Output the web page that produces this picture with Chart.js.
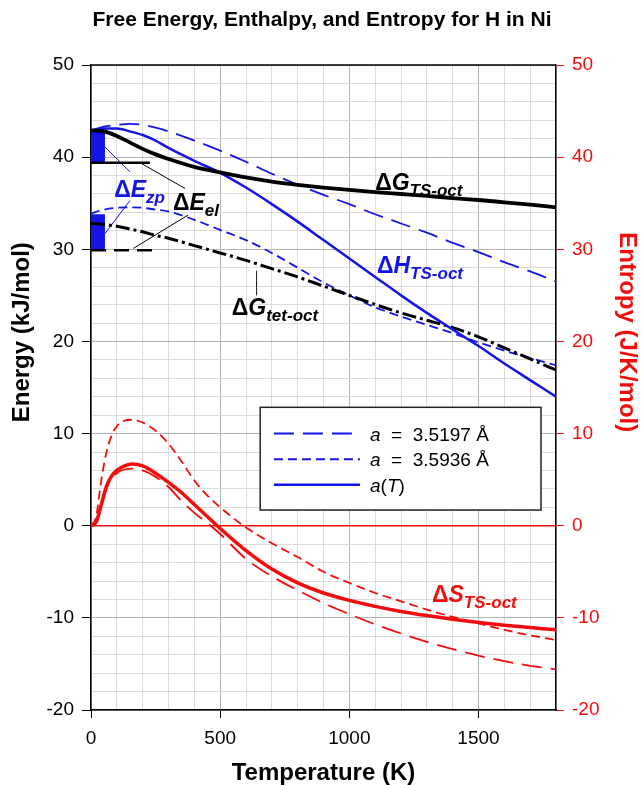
<!DOCTYPE html>
<html>
<head>
<meta charset="utf-8">
<script src="https://cdn.jsdelivr.net/npm/chart.js@4.4.1/dist/chart.umd.min.js"></script>
<style>
  html, body { margin: 0; padding: 0; background: #fff; }
  #wrap { width: 644px; height: 785px; }
</style>
</head>
<body>
<div id="wrap"><canvas id="c" width="644" height="785"></canvas></div>
<script>
// temperatures (K)
const T_ENERGY = [0, 50, 100, 150, 200, 250, 300, 400, 500, 600, 700, 800, 900, 1000, 1100, 1200, 1300, 1400, 1500, 1600, 1700, 1800];
const T_ENTROPY = [0, 20, 40, 60, 80, 100, 130, 160, 200, 250, 300, 350, 400, 450, 500, 600, 700, 800, 900, 1000, 1100, 1200, 1300, 1400, 1500, 1600, 1700, 1800];

// energies (kJ/mol)
const dG_TS = [42.9, 42.8, 42.3, 41.6, 40.9, 40.3, 39.8, 38.95, 38.35, 37.8, 37.35, 37.0, 36.7, 36.45, 36.2, 36.0, 35.8, 35.55, 35.35, 35.1, 34.85, 34.55];
const dH_TS_aT = [42.9, 43.1, 43.1, 42.8, 42.4, 41.8, 41.0, 39.6, 38.3, 36.7, 34.9, 33.0, 31.0, 29.0, 27.0, 25.0, 23.1, 21.3, 19.5, 17.6, 15.8, 14.0];
const dH_TS_a1 = [42.9, 43.3, 43.5, 43.6, 43.5, 43.2, 42.8, 41.8, 40.7, 39.5, 38.2, 37.0, 35.9, 34.9, 33.8, 32.8, 31.8, 30.7, 29.7, 28.6, 27.6, 26.5];
const dG_tet = [32.8, 32.7, 32.5, 32.2, 31.9, 31.5, 31.2, 30.4, 29.6, 28.8, 27.9, 27.0, 26.0, 25.0, 24.0, 23.1, 22.3, 21.5, 20.5, 19.3, 18.1, 16.9];
const dH_tet_a2 = [33.9, 34.3, 34.5, 34.55, 34.5, 34.3, 34.1, 33.2, 32.1, 31.0, 29.6, 28.0, 26.4, 25.0, 23.7, 22.7, 21.8, 20.9, 19.9, 19.0, 18.2, 17.4];

// entropies (J/K/mol)
const dS_aT = [0, 0.4, 2.3, 4.3, 5.4, 6.0, 6.5, 6.7, 6.5, 5.7, 4.7, 3.6, 2.3, 1.0, -0.3, -2.7, -4.7, -6.2, -7.3, -8.1, -8.75, -9.3, -9.75, -10.15, -10.5, -10.8, -11.05, -11.3];
const dS_a2 = [0, 1.0, 5.0, 8.0, 9.8, 10.8, 11.4, 11.5, 11.2, 10.3, 8.9, 7.0, 4.9, 3.3, 2.0, -0.2, -1.9, -3.4, -5.0, -6.2, -7.3, -8.2, -9.1, -9.9, -10.6, -11.3, -11.9, -12.4];
const dS_a1 = [0, 0.3, 2.1, 4.0, 5.1, 5.7, 6.1, 6.2, 6.0, 5.3, 4.2, 2.7, 1.4, 0.3, -0.9, -3.6, -5.5, -7.0, -8.4, -9.6, -10.7, -11.7, -12.6, -13.4, -14.1, -14.7, -15.2, -15.6];

// reference levels at T = 0
const E_EL_TS = 39.4, E_EL_TET = 29.9;
const ZP_TS = [E_EL_TS, 42.9];
const ZP_TET = [E_EL_TET, 33.8];
const ZP_WIDTH = 54;
const EL_TS_END = 228, EL_TET_END = 250;

// leader lines [T1, v1, T2, v2]
const LEADERS_ZP = [[54, 41.1, 151, 38.4], [151, 35.3, 54, 31.7]];
const LEADERS_EL = [[196, 39.3, 364, 36.6], [375, 33.7, 164, 30.1], [641, 27.7, 641, 25.0]];

const LEGEND_LABELS = ["3.5197 Å", "3.5936 Å", "(T)"];

const BLUE = "#1414e6";
const RED = "#f20d0d";
const FONT = '"Liberation Sans", Arial, Helvetica, sans-serif';

const pts = (xs, ys) => xs.map((x, i) => ({ x, y: ys[i] }));
const seg = (l) => [{ x: l[0], y: l[1] }, { x: l[2], y: l[3] }];

const curve = (data, color, width, dash, axis) => ({
  data,
  borderColor: color,
  borderWidth: width,
  borderDash: dash || [],
  pointRadius: 0,
  cubicInterpolationMode: "monotone",
  yAxisID: axis || "y",
  fill: false,
});

const datasets = [
  curve(pts(T_ENERGY, dG_TS), "#000", 3.8),
  curve(pts(T_ENERGY, dH_TS_aT), BLUE, 2.5),
  curve(pts(T_ENERGY, dH_TS_a1), BLUE, 1.8, [20, 9]),
  curve(pts(T_ENERGY, dG_tet), "#000", 3, [14, 4, 3, 4]),
  curve(pts(T_ENERGY, dH_tet_a2), BLUE, 1.8, [9, 5]),
  curve(pts(T_ENTROPY, dS_aT), RED, 3.5, null, "y2"),
  curve(pts(T_ENTROPY, dS_a2), RED, 1.8, [9, 5], "y2"),
  curve(pts(T_ENTROPY, dS_a1), RED, 1.8, [20, 9], "y2"),
  curve([{ x: 0, y: 0 }, { x: 1800, y: 0 }], RED, 1.5, null, "y2"),
  curve([{ x: 0, y: E_EL_TS }, { x: EL_TS_END, y: E_EL_TS }], "#000", 2.5),
  curve([{ x: 0, y: E_EL_TET }, { x: EL_TET_END, y: E_EL_TET }], "#000", 2.5, [15, 8]),
  {
    data: [{ x: 0, y: ZP_TS[1] }, { x: ZP_WIDTH, y: ZP_TS[1] }],
    borderWidth: 0, pointRadius: 0, backgroundColor: BLUE, fill: { value: ZP_TS[0] },
  },
  {
    data: [{ x: 0, y: ZP_TET[1] }, { x: ZP_WIDTH, y: ZP_TET[1] }],
    borderWidth: 0, pointRadius: 0, backgroundColor: BLUE, fill: { value: ZP_TET[0] },
  },
  ...LEADERS_ZP.map((l) => curve(seg(l), BLUE, 1)),
  ...LEADERS_EL.map((l) => curve(seg(l), "#000", 1)),
];

function rich(ctx, x, y, parts, color) {
  ctx.fillStyle = color;
  ctx.textBaseline = "alphabetic";
  ctx.textAlign = "left";
  for (const p of parts) {
    ctx.font = p.font;
    ctx.fillText(p.text, x, y + (p.dy || 0));
    x += ctx.measureText(p.text).width;
  }
}

const big = (t) => ({ text: t, font: `bold 23px ${FONT}` });
const bigI = (t) => ({ text: t, font: `italic bold 23px ${FONT}` });
const sub = (t) => ({ text: t, font: `italic bold 17px ${FONT}`, dy: 6 });

const CURVE_LABELS = [
  { T: 1100, v: 36.4, color: "#000", parts: [big("Δ"), bigI("G"), sub("TS-oct")] },
  { T: 1107, v: 27.4, color: BLUE, parts: [big("Δ"), bigI("H"), sub("TS-oct")] },
  { T: 1320, v: -8.3, color: RED, parts: [big("Δ"), bigI("S"), sub("TS-oct")] },
  { T: 90, v: 35.7, color: BLUE, parts: [big("Δ"), bigI("E"), sub("zp")] },
  { T: 317, v: 34.3, color: "#000", parts: [big("Δ"), bigI("E"), sub("el")] },
  { T: 545, v: 22.9, color: "#000", parts: [big("Δ"), bigI("G"), sub("tet-oct")] },
];

// rotated axis titles, centred a little above the middle of the plot
const AXIS_TITLE_LEVEL = 21;
const AXIS_TITLES = [
  { text: "Energy (kJ/mol)", color: "#000", x: 22, angle: -Math.PI / 2 },
  { text: "Entropy (J/K/mol)", color: RED, x: 627, angle: Math.PI / 2 },
];

const annotations = {
  id: "annotations",
  afterDatasetsDraw(chart) {
    const { ctx, chartArea: a, scales } = chart;
    const X = (t) => scales.x.getPixelForValue(t);
    const Y = (v) => scales.y.getPixelForValue(v);
    ctx.save();
    // top frame line
    ctx.strokeStyle = "#000";
    ctx.lineWidth = 1.5;
    ctx.beginPath();
    ctx.moveTo(a.left, a.top);
    ctx.lineTo(a.right, a.top);
    ctx.stroke();

    for (const l of CURVE_LABELS) rich(ctx, X(l.T), Y(l.v), l.parts, l.color);

    // legend box
    const bx0 = X(655), bx1 = X(1742), by0 = Y(12.85), by1 = Y(1.7);
    ctx.fillStyle = "#fff";
    ctx.fillRect(bx0, by0, bx1 - bx0, by1 - by0);
    ctx.strokeStyle = "#222";
    ctx.lineWidth = 1.5;
    ctx.strokeRect(bx0, by0, bx1 - bx0, by1 - by0);
    const rows = [10.0, 7.2, 4.45];
    const dashes = [[20, 9], [9, 5], []];
    const widths = [2, 2, 2.5];
    const f = `19px ${FONT}`, fi = `italic 19px ${FONT}`;
    rows.forEach((rv, i) => {
      const yy = Y(rv);
      ctx.strokeStyle = BLUE;
      ctx.lineWidth = widths[i];
      ctx.setLineDash(dashes[i]);
      ctx.beginPath();
      ctx.moveTo(X(708), yy);
      ctx.lineTo(X(1041), yy);
      ctx.stroke();
      ctx.setLineDash([]);
      const parts = i < 2
        ? [{ text: "a", font: fi }, { text: "  =  " + LEGEND_LABELS[i], font: f }]
        : [{ text: "a", font: fi }, { text: "(", font: f }, { text: "T", font: fi }, { text: ")", font: f }];
      rich(ctx, X(1080), yy + 7, parts, "#000");
    });

    // axis titles
    ctx.font = `bold 24px ${FONT}`;
    ctx.textAlign = "center";
    ctx.textBaseline = "middle";
    for (const t of AXIS_TITLES) {
      ctx.save();
      ctx.translate(t.x, Y(AXIS_TITLE_LEVEL));
      ctx.rotate(t.angle);
      ctx.fillStyle = t.color;
      ctx.fillText(t.text, 0, 0);
      ctx.restore();
    }
    ctx.restore();
  },
};

const gridColor = (ctx, major) =>
  ctx.tick && Math.round(ctx.tick.value) % major === 0 ? "#b4b4b4" : "#dcdcdc";

new Chart(document.getElementById("c"), {
  type: "line",
  data: { datasets },
  options: {
    responsive: false,
    devicePixelRatio: 1,
    animation: false,
    layout: { padding: { left: 0, right: 0, top: 0, bottom: 0 } },
    plugins: {
      legend: { display: false },
      tooltip: { enabled: false },
      title: {
        display: true,
        text: "Free Energy, Enthalpy, and Entropy for H in Ni",
        color: "#000",
        font: { family: FONT, size: 21, weight: "bold" },
        padding: { top: 8, bottom: 31.8 },
      },
    },
    scales: {
      x: {
        type: "linear",
        min: 0,
        max: 1800,
        afterFit: (s) => { s.height = 75; },
        ticks: {
          stepSize: 100,
          autoSkip: false,
          maxRotation: 0,
          color: "#000",
          padding: 9,
          font: { family: FONT, size: 19 },
          callback: (v) => (v % 500 === 0 ? v : ""),
        },
        grid: {
          color: (c) => gridColor(c, 500),
          tickColor: (c) => (c.tick && c.tick.value % 500 === 0 ? "#000" : "rgba(0,0,0,0)"),
          tickLength: 8,
        },
        border: { color: "#000", width: 1.5 },
        title: {
          display: true,
          text: "Temperature (K)",
          color: "#000",
          font: { family: FONT, size: 24, weight: "bold", lineHeight: 1 },
          padding: { top: 0, bottom: 0 },
        },
      },
      y: {
        min: -20,
        max: 50,
        afterFit: (s) => { s.width = 91; },
        ticks: {
          stepSize: 2,
          autoSkip: false,
          color: "#000",
          padding: 8,
          font: { family: FONT, size: 19 },
          callback: (v) => (v % 10 === 0 ? v : ""),
        },
        grid: {
          color: (c) => gridColor(c, 10),
          tickColor: (c) => (c.tick && c.tick.value % 10 === 0 ? "#000" : "rgba(0,0,0,0)"),
          tickLength: 9,
        },
        border: { color: "#000", width: 1.5 },
      },
      y2: {
        position: "right",
        min: -20,
        max: 50,
        afterFit: (s) => { s.width = 88; },
        ticks: {
          stepSize: 10,
          color: RED,
          padding: 8,
          font: { family: FONT, size: 19 },
        },
        grid: { drawOnChartArea: false, tickColor: RED, tickLength: 8 },
        border: { color: "#000", width: 1.5 },
      },
    },
  },
  plugins: [annotations],
});
</script>
</body>
</html>
